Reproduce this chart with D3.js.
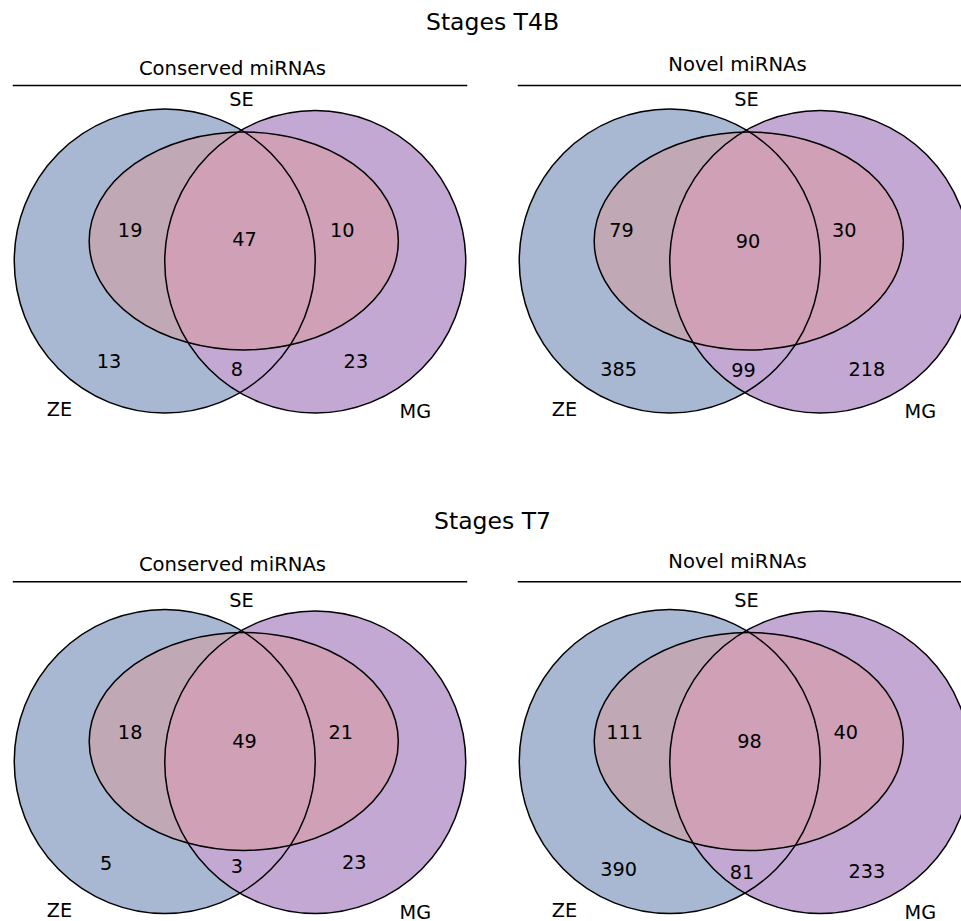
<!DOCTYPE html>
<html>
<head>
<meta charset="utf-8">
<script src="https://cdn.jsdelivr.net/npm/d3@7"></script>
<style>
  body { margin: 0; background: #fff; }
  text { font-family: "DejaVu Sans", sans-serif; fill: #000; }
</style>
</head>
<body>
<div id="vis"></div>
<script>
// data
const stages = ["Stages T4B", "Stages T7"];
const groups = ["Conserved miRNAs", "Novel miRNAs"];
const setNames = ["ZE", "SE", "MG"];
const regions = ["ZE only", "ZE & SE", "ZE & SE & MG", "SE & MG", "ZE & MG", "MG only"];
const t4bConserved = [13, 19, 47, 10, 8, 23];
const t4bNovel = [385, 79, 90, 30, 99, 218];
const t7Conserved = [5, 18, 49, 21, 3, 23];
const t7Novel = [390, 111, 98, 40, 81, 233];

const panels = [
  { stage: 0, group: 0, values: t4bConserved },
  { stage: 0, group: 1, values: t4bNovel },
  { stage: 1, group: 0, values: t7Conserved },
  { stage: 1, group: 1, values: t7Novel }
];

// layout (venn units, 1 unit = one circle radius)
const width = 961, height = 921;
const unit = 150.5;
const colX = [240, 745];
const rowY = [261, 761.5];
const titleY = [22, 521];
const ruleY = [-1.166, -1.195];            // header rule, per row
const subY = [[-1.279, -1.306], [-1.306, -1.326]]; // subtitle, per row / column

const shapes = {
  ZE: { cx: -0.5, cy: 0, rx: 1.0, ry: 1.01, fill: "#a8b8d2", opacity: 1 },
  MG: { cx: 0.5, cy: 0.005, rx: 1.0, ry: 1.005, fill: "#c4a8d4", opacity: 1 },
  SE: { cx: 0.025, cy: -0.133, rx: 1.027, ry: 0.724, fill: "rgb(218,152,152)", opacity: 0.5 }
};

const setLabelPos = { SE: [0.01, -1.07], ZE: [-1.2, 0.99], MG: [1.165, 1.0] };

// number anchors per panel, in region order
const labelPos = [
  [[-0.87, 0.67], [-0.73, -0.20], [0.03, -0.14], [0.68, -0.20], [-0.02, 0.72], [0.77, 0.67]],
  [[-0.84, 0.72], [-0.82, -0.20], [0.02, -0.13], [0.66, -0.20], [-0.01, 0.73], [0.81, 0.72]],
  [[-0.89, 0.68], [-0.73, -0.19], [0.03, -0.13], [0.67, -0.19], [-0.02, 0.70], [0.76, 0.67]],
  [[-0.84, 0.72], [-0.80, -0.19], [0.03, -0.13], [0.67, -0.19], [-0.02, 0.74], [0.81, 0.73]]
];

const svg = d3.select("#vis")
  .append("svg")
  .attr("width", width)
  .attr("height", height);

// stage titles, centred between the two panel columns
stages.forEach((s, i) => {
  svg.append("text")
    .attr("x", (colX[0] + colX[1]) / 2)
    .attr("y", titleY[i])
    .attr("text-anchor", "middle")
    .attr("dominant-baseline", "central")
    .attr("font-size", 23.5)
    .text(s);
});

panels.forEach((p, pi) => {
  const cx = colX[p.group], cy = rowY[p.stage];
  const x = d3.scaleLinear().domain([-1, 1]).range([cx - unit, cx + unit]);
  const y = d3.scaleLinear().domain([-1, 1]).range([cy - unit, cy + unit]);
  const k = x(1) - x(0);

  const g = svg.append("g");

  // subtitle and rule
  g.append("text")
    .attr("x", x(-0.05))
    .attr("y", y(subY[p.stage][p.group]))
    .attr("text-anchor", "middle")
    .attr("dominant-baseline", "central")
    .attr("font-size", 19.6)
    .text(groups[p.group]);

  g.append("line")
    .attr("x1", x(-1.51)).attr("x2", x(1.51))
    .attr("y1", y(ruleY[p.stage])).attr("y2", y(ruleY[p.stage]))
    .attr("stroke", "#000")
    .attr("stroke-width", 1.5);

  const order = ["ZE", "MG", "SE"];

  // fills
  g.selectAll(".fill")
    .data(order)
    .enter()
    .append("ellipse")
    .attr("class", "fill")
    .attr("cx", d => x(shapes[d].cx))
    .attr("cy", d => y(shapes[d].cy))
    .attr("rx", d => shapes[d].rx * k)
    .attr("ry", d => shapes[d].ry * k)
    .attr("fill", d => shapes[d].fill)
    .attr("fill-opacity", d => shapes[d].opacity);

  // outlines
  g.selectAll(".edge")
    .data(order)
    .enter()
    .append("ellipse")
    .attr("class", "edge")
    .attr("cx", d => x(shapes[d].cx))
    .attr("cy", d => y(shapes[d].cy))
    .attr("rx", d => shapes[d].rx * k)
    .attr("ry", d => shapes[d].ry * k)
    .attr("fill", "none")
    .attr("stroke", "#000")
    .attr("stroke-width", 1.5);

  // set names
  g.selectAll(".setname")
    .data(setNames)
    .enter()
    .append("text")
    .attr("class", "setname")
    .attr("x", d => x(setLabelPos[d][0]))
    .attr("y", d => y(setLabelPos[d][1]))
    .attr("text-anchor", "middle")
    .attr("dominant-baseline", "central")
    .attr("font-size", 19.3)
    .text(d => d);

  // region counts
  g.selectAll(".count")
    .data(p.values.map((v, i) => ({ region: regions[i], value: v, pos: labelPos[pi][i] })))
    .enter()
    .append("text")
    .attr("class", "count")
    .attr("x", d => x(d.pos[0]))
    .attr("y", d => y(d.pos[1]))
    .attr("text-anchor", "middle")
    .attr("dominant-baseline", "central")
    .attr("font-size", 19.3)
    .text(d => d.value);
});
</script>
</body>
</html>
